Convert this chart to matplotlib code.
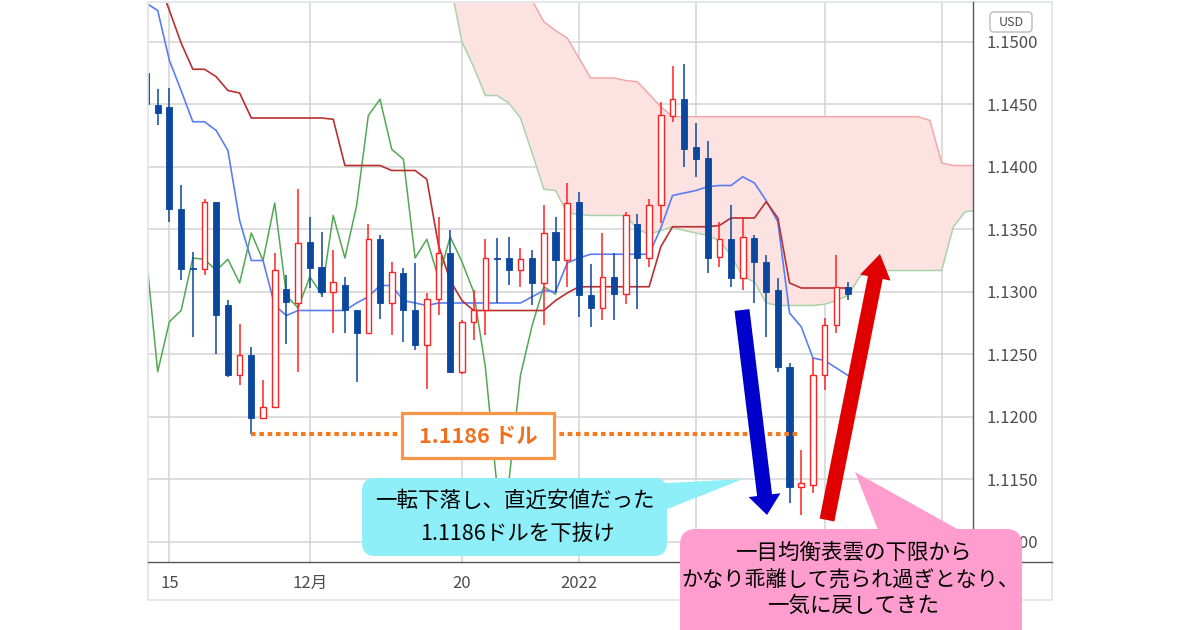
import numpy as np
import matplotlib.pyplot as plt
from matplotlib.patches import FancyBboxPatch, Polygon, FancyArrow, Rectangle

plt.rcParams['font.family'] = ['Noto Sans CJK JP', 'DejaVu Sans']

# EUR/USD daily candles, 2021-11-11 .. 2022-02-03
opens = [1.1475, 1.1449, 1.1448, 1.1366, 1.1319, 1.1318, 1.1372, 1.1289, 1.1233, 1.1249,
         1.1199, 1.1208, 1.1302, 1.1291, 1.1340, 1.1320, 1.1300, 1.1305, 1.1285, 1.1267,
         1.1342, 1.1291, 1.1315, 1.1285, 1.1257, 1.1294, 1.1331, 1.1236, 1.1276, 1.1285,
         1.1327, 1.1327, 1.1317, 1.1327, 1.1307, 1.1348, 1.1325, 1.1372, 1.1297, 1.1287,
         1.1312, 1.1298, 1.1354, 1.1327, 1.1369, 1.1441, 1.1454, 1.1416, 1.1407, 1.1328,
         1.1342, 1.1311, 1.1343, 1.1324, 1.1301, 1.1240, 1.1144, 1.1145, 1.1233, 1.1273,
         1.1304]
highs = [1.1477, 1.1462, 1.1463, 1.1385, 1.1332, 1.1374, 1.1372, 1.1293, 1.1274, 1.1256,
         1.1229, 1.1331, 1.1313, 1.1382, 1.1360, 1.1348, 1.1333, 1.1312, 1.1285, 1.1354,
         1.1345, 1.1324, 1.1319, 1.1323, 1.1299, 1.1360, 1.1349, 1.1277, 1.1301, 1.1342,
         1.1343, 1.1344, 1.1335, 1.1333, 1.1369, 1.1360, 1.1387, 1.1380, 1.1322, 1.1347,
         1.1331, 1.1364, 1.1362, 1.1374, 1.1452, 1.1481, 1.1482, 1.1435, 1.1421, 1.1356,
         1.1369, 1.1360, 1.1345, 1.1329, 1.1311, 1.1243, 1.1173, 1.1247, 1.1279, 1.1329,
         1.1308]
lows = [1.1449, 1.1433, 1.1356, 1.1309, 1.1264, 1.1313, 1.1250, 1.1232, 1.1225, 1.1186,
        1.1199, 1.1207, 1.1258, 1.1236, 1.1303, 1.1296, 1.1267, 1.1267, 1.1228, 1.1267,
        1.1278, 1.1265, 1.1260, 1.1253, 1.1222, 1.1281, 1.1236, 1.1234, 1.1261, 1.1265,
        1.1291, 1.1305, 1.1304, 1.1289, 1.1273, 1.1299, 1.1304, 1.1280, 1.1272, 1.1277,
        1.1277, 1.1290, 1.1286, 1.1320, 1.1355, 1.1436, 1.1400, 1.1392, 1.1315, 1.1320,
        1.1304, 1.1301, 1.1291, 1.1264, 1.1236, 1.1131, 1.1121, 1.1139, 1.1221, 1.1267,
        1.1293]
closes = [1.1450, 1.1443, 1.1366, 1.1318, 1.1318, 1.1372, 1.1281, 1.1233, 1.1249, 1.1199,
          1.1208, 1.1317, 1.1292, 1.1339, 1.1319, 1.1300, 1.1308, 1.1285, 1.1267, 1.1342,
          1.1291, 1.1316, 1.1285, 1.1257, 1.1294, 1.1331, 1.1236, 1.1276, 1.1285, 1.1327,
          1.1326, 1.1317, 1.1326, 1.1307, 1.1347, 1.1325, 1.1371, 1.1297, 1.1287, 1.1312,
          1.1298, 1.1361, 1.1327, 1.1369, 1.1441, 1.1454, 1.1414, 1.1406, 1.1327, 1.1342,
          1.1311, 1.1344, 1.1324, 1.1300, 1.1240, 1.1144, 1.1147, 1.1233, 1.1273, 1.1304,
          1.1298]

# Ichimoku lines (tenkan / kijun per candle)
tenkan = [1.1531, 1.1525, 1.1485, 1.1461, 1.1436, 1.1436, 1.1429, 1.1413, 1.1357, 1.1325,
          1.1325, 1.1289, 1.1281, 1.1285, 1.1285, 1.1285, 1.1285, 1.1285, 1.1291, 1.1296,
          1.1305, 1.1305, 1.1293, 1.1291, 1.1289, 1.1291, 1.1291, 1.1291, 1.1291, 1.1291,
          1.1291, 1.1291, 1.1291, 1.1296, 1.1301, 1.1300, 1.1323, 1.1327, 1.1330, 1.1330,
          1.1330, 1.1330, 1.1330, 1.1330, 1.1351, 1.1377, 1.1379, 1.1381, 1.1384, 1.1385,
          1.1385, 1.1392, 1.1387, 1.1373, 1.1356, 1.1283, 1.1272, 1.1247, 1.1245, 1.1239,
          1.1233]
kijun = [1.1575, 1.1550, 1.1525, 1.1499, 1.1478, 1.1478, 1.1472, 1.1461, 1.1459, 1.1439,
         1.1439, 1.1439, 1.1439, 1.1439, 1.1439, 1.1439, 1.1438, 1.1401, 1.1401, 1.1401,
         1.1401, 1.1397, 1.1397, 1.1397, 1.1390, 1.1337, 1.1309, 1.1293, 1.1285, 1.1285,
         1.1285, 1.1285, 1.1285, 1.1285, 1.1285, 1.1293, 1.1299, 1.1304, 1.1304, 1.1304,
         1.1304, 1.1304, 1.1304, 1.1304, 1.1336, 1.1352, 1.1352, 1.1352, 1.1352, 1.1353,
         1.1359, 1.1359, 1.1359, 1.1372, 1.1359, 1.1307, 1.1303, 1.1303, 1.1303, 1.1303,
         1.1303]
# leading spans, from candle 26 to 71 (cloud runs past the last candle)
span_start = 26
span_a = [1.1547, 1.1500, 1.1480, 1.1457, 1.1457, 1.1451, 1.1439, 1.1411, 1.1382, 1.1381,
          1.1363, 1.1362, 1.1361, 1.1361, 1.1361, 1.1361, 1.1350, 1.1346, 1.1349, 1.1352,
          1.1349, 1.1347, 1.1345, 1.1341, 1.1329, 1.1312, 1.1308, 1.1291, 1.1289, 1.1289,
          1.1289, 1.1289, 1.1290, 1.1293, 1.1297, 1.1312, 1.1317, 1.1317, 1.1317, 1.1317,
          1.1317, 1.1317, 1.1317, 1.1352, 1.1364, 1.1365]
span_b = [1.1565, 1.1564, 1.1561, 1.1557, 1.1553, 1.1548, 1.1537, 1.1533, 1.1516, 1.1509,
          1.1503, 1.1487, 1.1471, 1.1471, 1.1471, 1.1469, 1.1468, 1.1458, 1.1448, 1.1440,
          1.1440, 1.1440, 1.1440, 1.1440, 1.1440, 1.1440, 1.1440, 1.1440, 1.1440, 1.1440,
          1.1440, 1.1440, 1.1440, 1.1440, 1.1440, 1.1440, 1.1440, 1.1440, 1.1440, 1.1440,
          1.1440, 1.1437, 1.1403, 1.1401, 1.1401, 1.1401]
lag = 25

grid_pos = [2, 14, 27, 37, 47, 58, 68]
xtick_pos = [2, 14, 27, 37]
xtick_labels = ['15', '12月', '20', '2022']
yticks = [1.110, 1.115, 1.120, 1.125, 1.130, 1.135, 1.140, 1.145, 1.150]
recent_low = 1.1186

opens = np.array(opens); highs = np.array(highs)
lows = np.array(lows); closes = np.array(closes)
idx = np.arange(len(closes))
span_idx = np.arange(span_start, span_start + len(span_a))

fig = plt.figure(figsize=(12, 6.3), dpi=100)
fig.patch.set_facecolor('white')
ax = fig.add_axes([148 / 1200, 1 - 562 / 630, 825 / 1200, 559 / 630])
ax.set_xlim(0.17, 70.68)
ax.set_ylim(1.10838, 1.15310)

# grid
for x in grid_pos:
    ax.axvline(x, color='#D3D3D3', lw=1.1, zorder=0)
for y in yticks:
    ax.axhline(y, color='#D3D3D3', lw=1.1, zorder=0)

# cloud
ax.fill_between(span_idx, span_a, span_b, color='#FDE2E2', lw=0, zorder=1)
ax.plot(span_idx, span_b, color='#F2A7A7', lw=1.1, zorder=1.5)
ax.plot(span_idx, span_a, color='#A9D4A9', lw=1.1, zorder=1.5)

# lagging span (closes shifted back)
ax.plot(idx[:len(closes) - lag], closes[lag:], color='#52A852', lw=1.1, zorder=2)
ax.plot(idx, tenkan, color='#5A7EF2', lw=1.2, zorder=2.5)
ax.plot(idx, kijun, color='#B83030', lw=1.2, zorder=2.5)

# candles
up = closes >= opens
red = '#FF2222'
blue = '#0B479F'
ax.vlines(idx[up], lows[up], highs[up], color=red, lw=1.1, zorder=3)
ax.vlines(idx[~up], lows[~up], highs[~up], color=blue, lw=1.1, zorder=3)
body = np.maximum(np.abs(closes - opens), 0.00006)
bottom = np.minimum(opens, closes)
ax.bar(idx[up], body[up], 0.48, bottom[up], facecolor='white', edgecolor=red, lw=1.0, zorder=3.5)
ax.bar(idx[~up], body[~up], 0.52, bottom[~up], facecolor=blue, edgecolor=blue, lw=0.6, zorder=3.5)

# previous low dotted line
ax.hlines(recent_low, 9, 55.9, color='#F47A20', lw=3, linestyles=(0, (1.1, 0.9)), zorder=4)

ax.set_xticks(xtick_pos)
ax.set_xticklabels(xtick_labels)
ax.yaxis.tick_right()
ax.set_yticks(yticks)
ax.set_yticklabels([f'{v:.4f}' for v in yticks])
ax.tick_params(axis='both', length=0, labelsize=12, colors='#4D4D4D')
ax.tick_params(axis='y', pad=10)
ax.tick_params(axis='x', pad=9)
for s in ax.spines.values():
    s.set_visible(False)

# overlay in pixel coordinates for the frame and annotations
ov = fig.add_axes([0, 0, 1, 1])
ov.set_xlim(0, 1200)
ov.set_ylim(630, 0)
ov.axis('off')

ov.add_patch(Rectangle((148, 1.5), 904, 598.5, fill=False, ec='#E0E3EB', lw=1.2, zorder=0.5))
ov.plot([973, 973], [2, 562], color='#555555', lw=1.0, zorder=0.6)
ov.plot([148, 1052], [562, 562], color='#555555', lw=1.0, zorder=0.6)

ov.add_patch(FancyBboxPatch((990, 12), 42, 20, boxstyle='round,pad=0,rounding_size=4',
                            fc='white', ec='#B8BBC2', lw=1.0, zorder=2))
ov.text(1011, 22.5, 'USD', ha='center', va='center', fontsize=9, color='#4D4D4D', zorder=3)

# price label box
ov.add_patch(Rectangle((402, 413), 152, 45, fc='white', ec='#F79646', lw=2.3, zorder=2))
ov.text(478, 436, '1.1186 ドル', ha='center', va='center', fontsize=15.5,
        fontweight='bold', color='#F07020', zorder=3)

# cyan callout
cyan = '#8FEFF8'
ov.add_patch(FancyBboxPatch((362, 478), 305, 78, boxstyle='round,pad=0,rounding_size=13',
                            fc=cyan, ec='none', zorder=2))
ov.add_patch(Polygon([(648, 484), (743, 479), (655, 514)], closed=True, fc=cyan, ec='none', zorder=2))
ov.text(515, 501, '一転下落し、直近安値だった', ha='center', va='center', fontsize=15.5,
        color='black', zorder=3)
ov.text(517, 534, '1.1186ドルを下抜け', ha='center', va='center', fontsize=15.5,
        color='black', zorder=3)

# pink callout
pink = '#FF9DCF'
ov.add_patch(FancyBboxPatch((680, 529), 342, 130, boxstyle='round,pad=0,rounding_size=16',
                            fc=pink, ec='none', zorder=2))
ov.add_patch(Polygon([(855, 472), (880, 535), (968, 535)], closed=True, fc=pink, ec='none', zorder=2))
ov.text(853, 553, '一目均衡表雲の下限から', ha='center', va='center', fontsize=15.5,
        color='black', zorder=3)
ov.text(850, 581, 'かなり乖離して売られ過ぎとなり、', ha='center', va='center', fontsize=15.2,
        color='black', zorder=3)
ov.text(853, 606, '一気に戻してきた', ha='center', va='center', fontsize=15.5,
        color='black', zorder=3)

# arrows
ov.add_patch(FancyArrow(742, 310, 25, 205, width=15, head_width=32, head_length=20,
                        length_includes_head=True, fc='#0000CC', ec='none', zorder=4))
ov.add_patch(FancyArrow(827, 520, 53, -266, width=15, head_width=31, head_length=24,
                        length_includes_head=True, fc='#E00000', ec='none', zorder=4))

fig.savefig('out.png', dpi=100)
